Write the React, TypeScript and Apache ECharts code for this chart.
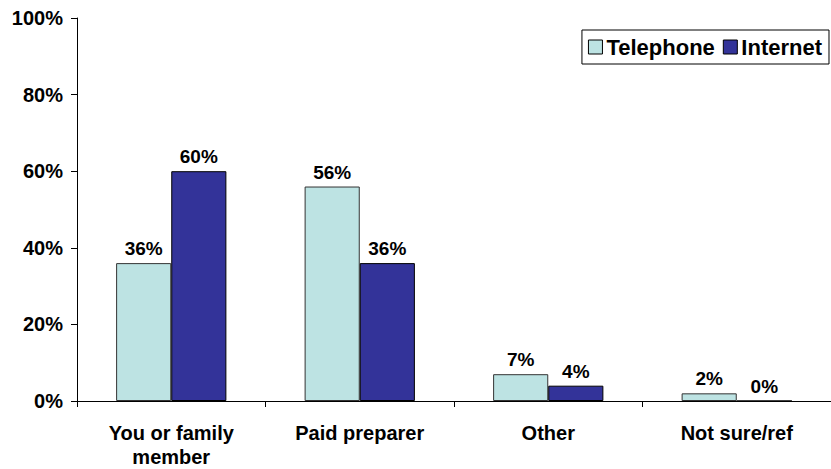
import React, { useEffect, useRef } from "react";
import * as echarts from "echarts";

const categories = ["You or family\nmember", "Paid preparer", "Other", "Not sure/ref"];
const telephone = [36, 56, 7, 2];
const internet = [60, 36, 4, 0];
const yTicks = [0, 20, 40, 60, 80, 100];

export default function App() {
  const ref = useRef<HTMLDivElement>(null);
  useEffect(() => {
    document.body.style.margin = "0";
    document.documentElement.style.overflow = "hidden";
    document.body.style.overflow = "hidden";
    const chart = echarts.init(ref.current!, null, { renderer: "svg" });
    const font = "Arial, 'Liberation Sans', sans-serif";
    const labelStyle = {
      show: true,
      position: "top" as const,
      formatter: "{c}%",
      fontFamily: font,
      fontWeight: "bold" as const,
      fontSize: 19,
      color: "#000",
      distance: 5,
    };
    chart.setOption({
      animation: false,
      backgroundColor: "#fff",
      textStyle: { fontFamily: font },
      grid: { left: 77, top: 18, width: 763, height: 385, containLabel: false },
      legend: {
        right: 2,
        top: 30,
        padding: [6, 7, 6, 6],
        borderColor: "#000",
        borderWidth: 1,
        backgroundColor: "#fff",
        itemWidth: 14,
        itemHeight: 14,
        itemGap: 8,
        icon: "rect",
        textStyle: { fontFamily: font, fontWeight: "bold", fontSize: 22, color: "#000", padding: [0, 0, 0, -1] },
        data: [
          { name: "Telephone", itemStyle: { borderColor: "#000", borderWidth: 1 } },
          { name: "Internet", itemStyle: { borderColor: "#000", borderWidth: 1 } },
        ],
      },
      xAxis: {
        type: "category",
        data: categories,
        axisLine: { lineStyle: { color: "#000", width: 1 } },
        axisTick: { show: true, length: 6, inside: false, alignWithLabel: false, lineStyle: { color: "#000" } },
        axisLabel: {
          fontFamily: font,
          fontWeight: "bold",
          fontSize: 20,
          color: "#000",
          margin: 20,
          lineHeight: 24,
          interval: 0,
        },
      },
      yAxis: {
        type: "value",
        min: 0,
        max: 100,
        interval: 20,
        splitLine: { show: false },
        axisLine: { show: true, lineStyle: { color: "#000", width: 1 } },
        axisTick: { show: true, length: 6, lineStyle: { color: "#000" } },
        axisLabel: {
          formatter: (v: number) => (yTicks.includes(v) ? v + "%" : ""),
          fontFamily: font,
          fontWeight: "bold",
          fontSize: 20,
          color: "#000",
          margin: 14,
        },
      },
      series: [
        {
          name: "Telephone",
          type: "bar",
          data: telephone,
          barGap: "0%",
          barCategoryGap: "41.5%",
          itemStyle: { color: "#BDE3E3", borderColor: "#333", borderWidth: 1 },
          label: labelStyle,
        },
        {
          name: "Internet",
          type: "bar",
          data: internet,
          itemStyle: { color: "#333399", borderColor: "#000", borderWidth: 1 },
          label: labelStyle,
        },
      ],
    });
    return () => chart.dispose();
  }, []);
  return (
    <div
      ref={ref}
      style={{ position: "fixed", left: 0, top: 0, width: 831, height: 469, overflow: "hidden" }}
    />
  );
}
